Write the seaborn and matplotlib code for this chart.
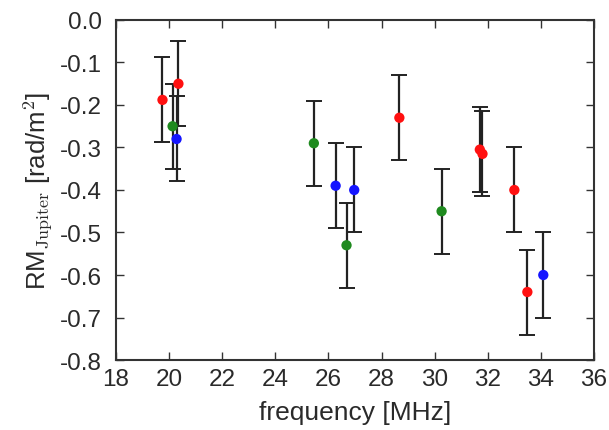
import matplotlib
matplotlib.use("Agg")
import matplotlib.pyplot as plt
import seaborn as sns
import pandas as pd

# Data
freq = [19.75, 20.35, 20.13, 20.28, 25.45, 26.27, 26.97, 26.68, 28.67, 30.26, 31.70, 31.80, 33.00, 33.49, 34.09]
rm = [-0.188, -0.150, -0.250, -0.280, -0.290, -0.390, -0.400, -0.530, -0.230, -0.450, -0.305, -0.315, -0.400, -0.640, -0.600]
err = [0.10] * 15
group = ["red", "red", "green", "blue", "green", "blue", "blue", "green", "red", "green", "red", "red", "red", "red", "blue"]

xticks = [18, 20, 22, 24, 26, 28, 30, 32, 34, 36]
yticks = [0.0, -0.1, -0.2, -0.3, -0.4, -0.5, -0.6, -0.7, -0.8]

df = pd.DataFrame({"freq": freq, "rm": rm, "err": err, "group": group})

sns.set_style("ticks")
plt.rcParams["font.family"] = ["Liberation Sans", "DejaVu Sans"]
plt.rcParams["mathtext.fontset"] = "cm"

fig = plt.figure(figsize=(6.09, 4.31), dpi=100)
ax = fig.add_axes([0.1905, 0.1624, 0.7849, 0.7889])

ax.errorbar(df["freq"], df["rm"], yerr=df["err"], fmt="none", ecolor="#222222",
            elinewidth=1.6, capsize=6, capthick=1.4, zorder=2)
palette = {"red": "#ff1010", "green": "#1f8a1f", "blue": "#1515ff"}
sns.scatterplot(data=df, x="freq", y="rm", hue="group", palette=palette, s=55,
                edgecolor="none", legend=False, ax=ax, zorder=3)

ax.set_xlim(18, 36)
ax.set_ylim(-0.8, 0.0)
ax.set_xticks(xticks)
ax.set_yticks(yticks)
ax.set_xticklabels([str(t) for t in xticks])
ax.set_yticklabels([f"{t:.1f}" for t in yticks])
ax.tick_params(direction="in", length=6, width=1, top=True, right=True,
               labelsize=17.5, colors="#333333", labelcolor="#2a2a2a")
ax.tick_params(axis="y", pad=10)
ax.tick_params(axis="x", pad=6)
for s in ax.spines.values():
    s.set_linewidth(1.5)
    s.set_color("#333333")
ax.set_xlabel("frequency [MHz]", fontsize=19, color="#2a2a2a", labelpad=7)
ax.set_ylabel(r"RM$_{\mathrm{Jupiter}}$ [rad/m$^2$]", fontsize=18.5, color="#2a2a2a", labelpad=4)

fig.savefig("out.png", dpi=100, facecolor="white")
